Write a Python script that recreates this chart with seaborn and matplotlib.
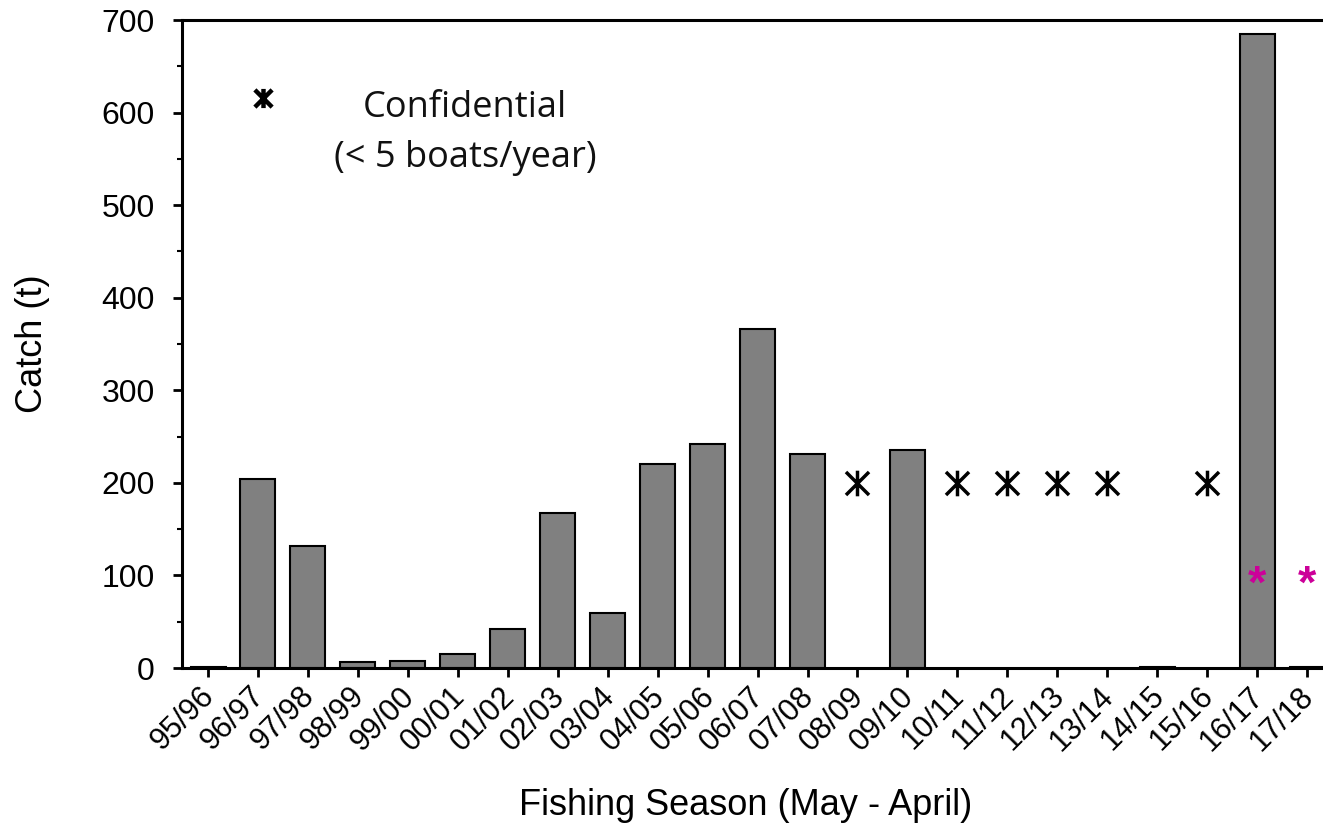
import numpy as np
import pandas as pd
import matplotlib
matplotlib.use("Agg")
import matplotlib.pyplot as plt
import matplotlib.transforms as mtransforms
import seaborn as sns
from matplotlib.path import Path

# seasons and catch (t); NaN = confidential season
seasons = ['95/96', '96/97', '97/98', '98/99', '99/00', '00/01', '01/02', '02/03',
           '03/04', '04/05', '05/06', '06/07', '07/08', '08/09', '09/10', '10/11',
           '11/12', '12/13', '13/14', '14/15', '15/16', '16/17', '17/18']
catch = [1, 204, 132, 6, 7.5, 15, 42, 168, 59, 220, 242, 366, 231, np.nan, 235,
         np.nan, np.nan, np.nan, np.nan, 1, np.nan, 685, 1]

# confidential seasons, marked at 200 t
conf_seasons = ['08/09', '10/11', '11/12', '12/13', '13/14', '15/16']
conf_level = 200

# pink asterisk notes
note_seasons = ['16/17', '17/18']
note_level = [89, 89]

df = pd.DataFrame({'Season': seasons, 'Catch': catch})

sns.set_theme(style="white")
plt.rcParams['font.family'] = ['Liberation Sans', 'DejaVu Sans']

fig = plt.figure(figsize=(13.23, 8.32), dpi=100)
ax = fig.add_axes([0.1376, 0.1971, 0.870, 0.7788])

sns.barplot(data=df, x='Season', y='Catch', color='#808080', saturation=1,
            width=0.70, edgecolor='black', linewidth=1.5, ax=ax)

# asterisk marker: vertical stroke plus an X
star = Path([(0, 1), (0, -1), (-0.9, 0.9), (0.9, -0.9), (-0.9, -0.9), (0.9, 0.9)],
            [Path.MOVETO, Path.LINETO, Path.MOVETO, Path.LINETO, Path.MOVETO, Path.LINETO])

cx = [seasons.index(s) for s in conf_seasons]
ax.scatter(cx, [conf_level] * len(cx), marker=star, s=340, c='black', linewidths=2.5, zorder=3)

# legend-like note
ax.scatter([1.10], [616], marker=star, s=190, c='black', linewidths=3.2, zorder=3)
ax.text(0.246, 0.850, 'Confidential', transform=ax.transAxes, ha='center', va='baseline',
        fontsize=26, family=['Open Sans', 'DejaVu Sans'], color='#111111')
ax.text(0.246, 0.773, '(< 5 boats/year)', transform=ax.transAxes, ha='center', va='baseline',
        fontsize=26, family=['Open Sans', 'DejaVu Sans'], color='#111111')

for s, v in zip(note_seasons, note_level):
    ax.text(seasons.index(s), v, '*', color='#CC0099', fontsize=34,
            ha='center', va='center', fontweight='bold')

ax.set_xlim(-0.52, 22.52)
ax.set_ylim(0, 700)
ax.set_yticks(range(0, 701, 100))
ax.set_yticks(range(50, 700, 100), minor=True)

for side in ['left', 'top', 'bottom', 'right']:
    ax.spines[side].set_color('black')
    ax.spines[side].set_linewidth(2.2)

ax.tick_params(axis='both', which='major', direction='out', length=6.5, width=2,
               color='black', labelsize=23, labelcolor='black', left=True, bottom=True)
ax.tick_params(axis='y', which='minor', direction='out', length=3.5, width=1.5,
               color='black', left=True)
ax.tick_params(axis='y', pad=13)
ax.tick_params(axis='x', pad=3, labelsize=22)

# rotated labels, nudged a little left so the last one stays inside the picture
shift = mtransforms.ScaledTranslation(-6 / 72, 0, fig.dpi_scale_trans)
for lab in ax.get_xticklabels():
    lab.set_rotation(45)
    lab.set_ha('right')
    lab.set_rotation_mode('anchor')
    lab.set_transform(lab.get_transform() + shift)

ax.set_xlabel('Fishing Season (May - April)', fontsize=26, color='black')
ax.set_ylabel('Catch (t)', fontsize=26, color='black')
ax.xaxis.set_label_coords(0.49, -0.185)
ax.yaxis.set_label_coords(-0.1147, 0.5)
ax.grid(False)

fig.savefig('out.png', dpi=100)
